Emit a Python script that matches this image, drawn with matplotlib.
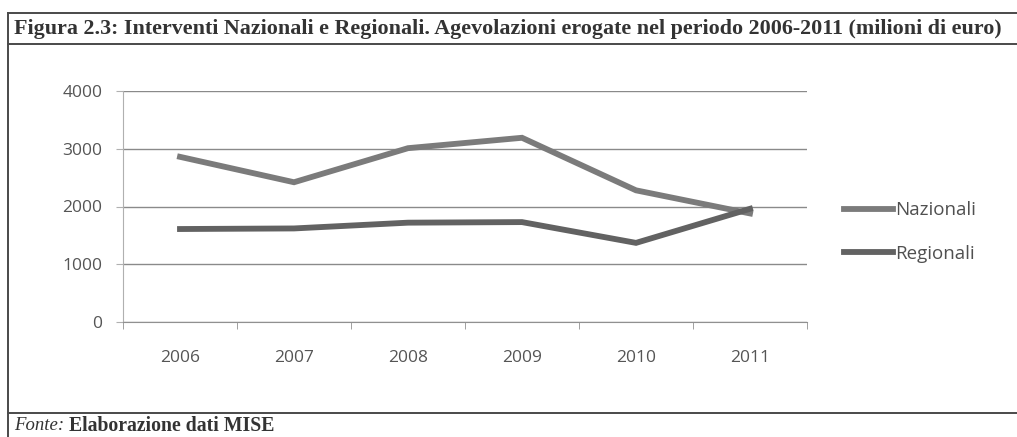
import matplotlib.pyplot as plt
from matplotlib.lines import Line2D

# Data (milioni di euro)
anni = ["2006", "2007", "2008", "2009", "2010", "2011"]
nazionali = [2860, 2420, 3010, 3190, 2280, 1880]
regionali = [1610, 1620, 1720, 1730, 1370, 1960]

fig = plt.figure(figsize=(10.17, 4.37), dpi=100)
W, H = 1017, 437

# outer frame of the scanned figure box
def hline(y, x0=8, x1=1017, lw=1.4, c="#4a4a4a"):
    fig.add_artist(Line2D([x0 / W, x1 / W], [1 - y / H, 1 - y / H], lw=lw, color=c))

hline(13)
hline(44)
hline(413)
fig.add_artist(Line2D([8 / W, 8 / W], [1 - 13 / H, 0], lw=1.4, color="#4a4a4a"))

fig.text(14 / W, 1 - 29 / H,
         "Figura 2.3: Interventi Nazionali e Regionali. Agevolazioni erogate nel periodo 2006-2011 (milioni di euro)",
         family="Liberation Serif", weight="bold", fontsize=15.8, color="#333333", va="center", ha="left")
fig.text(14 / W, 1 - 426 / H, "Fonte:", family="Liberation Serif", style="italic",
         fontsize=13.5, color="#333333", va="center", ha="left")
fig.text(69 / W, 1 - 426 / H, "Elaborazione dati MISE", family="Liberation Serif", weight="bold",
         fontsize=14.2, color="#333333", va="center", ha="left")

ax = fig.add_axes([123 / W, 1 - 322 / H, (807 - 123) / W, (322 - 91) / H])
x = list(range(len(anni)))
ax.plot(x, nazionali, color="#7b7b7b", lw=4.2, solid_joinstyle="miter", label="Nazionali")
ax.plot(x, regionali, color="#626262", lw=4.2, solid_joinstyle="miter", label="Regionali")

ax.set_xlim(-0.5, len(anni) - 0.5)
ax.set_ylim(0, 4000)
ax.set_yticks([0, 1000, 2000, 3000, 4000])
ax.set_xticks(x)
ax.set_xticklabels(anni)
ax.set_xticks([i - 0.5 for i in range(len(anni) + 1)], minor=True)
ax.yaxis.grid(True, color="#8a8a8a", lw=1.0)
ax.set_axisbelow(True)
for s in ["top", "right"]:
    ax.spines[s].set_visible(False)
ax.spines["left"].set_color("#b0b0b0")
ax.spines["bottom"].set_color("#909090")
ax.tick_params(axis="x", which="major", length=0, pad=20, labelsize=12.5, labelcolor="#555555")
ax.tick_params(axis="x", which="minor", length=5, color="#909090")
ax.tick_params(axis="y", length=5, color="#b0b0b0", pad=10, labelsize=12.5, labelcolor="#555555")
for lab in ax.get_xticklabels() + ax.get_yticklabels():
    lab.set_family("Open Sans")

leg = ax.legend(loc="center left", bbox_to_anchor=(1.03, 0.39), frameon=False,
                handlelength=2.6, handletextpad=0.1, labelspacing=1.35,
                prop={"family": "Open Sans", "size": 13.5})
for t in leg.get_texts():
    t.set_color("#505050")

fig.savefig("out.png", dpi=100)
